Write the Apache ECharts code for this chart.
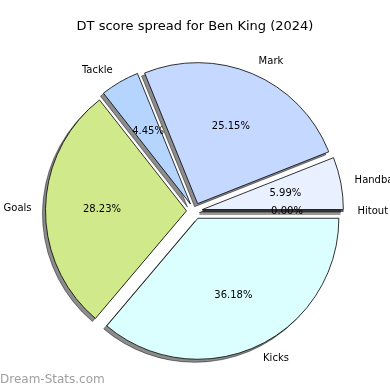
<!DOCTYPE html>
<html>
<head>
<meta charset="utf-8">
<script src="https://cdn.jsdelivr.net/npm/echarts@6/dist/echarts.min.js"></script>
<style>
html,body{margin:0;padding:0;background:#fff;}
#chart{width:390px;height:390px;}
</style>
</head>
<body>
<div id="chart"></div>
<script>
const categories = ['Kicks', 'Goals', 'Tackle', 'Mark', 'Handball', 'Hitout'];
const shares = [36.18, 28.23, 4.45, 25.15, 5.99, 0.00];
const colors = ['#dbffff', '#d0e98a', '#b5d5ff', '#c5d8ff', '#e9f0ff', '#dfe9ff'];
const titleText = 'DT score spread for Ben King (2024)';
const watermark = 'Dream-Stats.com';

const FONT = 'DejaVu Sans';
const R = 141;
const CENTER = [194.5, 211];
const OFFSET = 8;
const SH = 3;

const chart = echarts.init(document.getElementById('chart'), null, {renderer: 'canvas'});

function makeData(withColor) {
  return categories.map((c, i) => {
    const d = {name: c, value: shares[i], selected: true};
    if (withColor) d.itemStyle = {color: colors[i]};
    return d;
  });
}

const common = {
  type: 'pie',
  radius: R,
  startAngle: 0,
  clockwise: true,
  selectedMode: 'multiple',
  selectedOffset: OFFSET,
  avoidLabelOverlap: false,
  stillShowZeroSum: true,
  minShowLabelAngle: -1,
  silent: true,
  emphasis: {disabled: true}
};

chart.setOption({
  animation: false,
  backgroundColor: '#ffffff',
  title: {
    text: titleText,
    left: 'center',
    top: 15,
    textStyle: {fontFamily: FONT, fontSize: 13, fontWeight: 'normal', color: '#000'}
  },
  graphic: [{
    type: 'text',
    left: 0,
    top: 374,
    style: {text: watermark, fontFamily: FONT, fontSize: 12, fill: '#a0a0a0'}
  }],
  series: [
    Object.assign({}, common, {
      center: [CENTER[0] - SH, CENTER[1] + SH],
      z: 1,
      itemStyle: {color: 'rgba(0,0,0,0.45)', borderColor: 'rgba(0,0,0,0.45)', borderWidth: 1},
      select: {itemStyle: {color: 'rgba(0,0,0,0.45)', borderColor: 'rgba(0,0,0,0.45)', borderWidth: 1}},
      label: {show: false},
      labelLine: {show: false},
      data: makeData(false)
    }),
    Object.assign({}, common, {
      center: CENTER,
      z: 2,
      itemStyle: {borderColor: '#000', borderWidth: 0.8},
      select: {itemStyle: {borderColor: '#000', borderWidth: 0.8}},
      label: {
        show: true,
        position: 'outside',
        formatter: '{b}',
        fontFamily: FONT,
        fontSize: 10,
        color: '#000',
        distanceToLabelLine: 0
      },
      labelLine: {show: false, length: 14, length2: 0},
      data: makeData(true)
    }),
    Object.assign({}, common, {
      center: CENTER,
      radius: [22, R],
      z: 5,
      itemStyle: {color: 'rgba(0,0,0,0)', borderWidth: 0},
      select: {itemStyle: {color: 'rgba(0,0,0,0)', borderWidth: 0}},
      label: {
        show: true,
        position: 'inner',
        formatter: function (p) { return p.value.toFixed(2) + '%'; },
        fontFamily: FONT,
        fontSize: 10,
        color: '#000'
      },
      labelLine: {show: false},
      data: makeData(false)
    })
  ]
});
</script>
</body>
</html>
